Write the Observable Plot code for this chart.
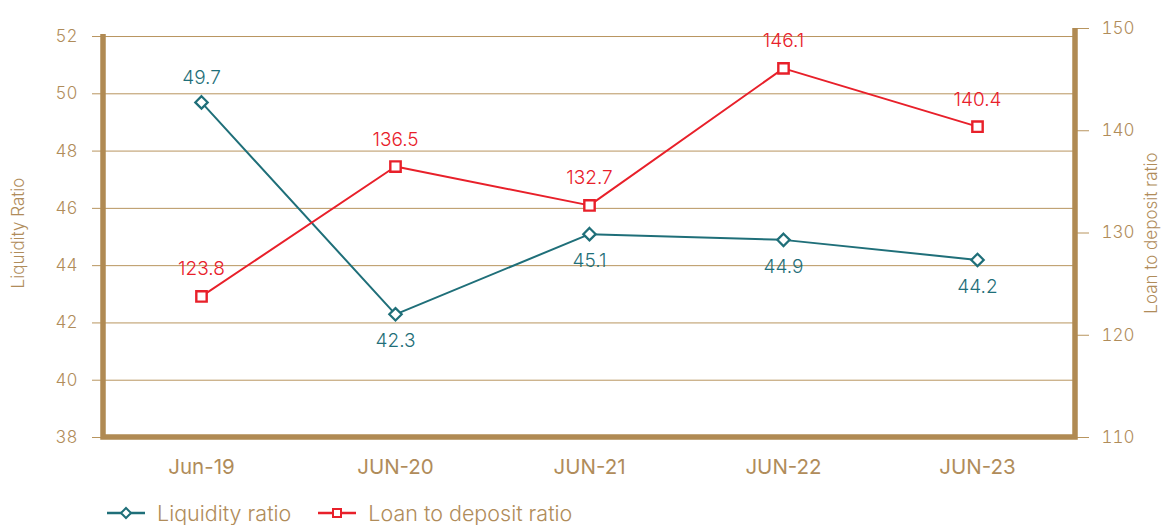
<!DOCTYPE html>
<html>
<head>
<meta charset="utf-8">
<script src="https://cdn.jsdelivr.net/npm/d3@7"></script>
<script src="https://cdn.jsdelivr.net/npm/@observablehq/plot@0.6"></script>
<style>
  html, body { margin: 0; padding: 0; background: #fff; }
  body { width: 1162px; height: 525px; overflow: hidden; font-family: Inter, Lato, sans-serif; }
  #legend { display: flex; align-items: center; height: 30px; margin-top: 3px; margin-left: 107px; font-size: 21.5px; color: #b08c5a; }
  #legend .item { display: flex; align-items: center; margin-right: 27px; }
  #legend svg { margin-right: 12px; }
</style>
</head>
<body>
<div id="chart"></div>
<div id="legend"></div>
<script>
// ---- data ----
const periods = ["Jun-19", "JUN-20", "JUN-21", "JUN-22", "JUN-23"];
const liquidityRatio = [49.7, 42.3, 45.1, 44.9, 44.2];
const loanToDeposit = [123.8, 136.5, 132.7, 146.1, 140.4];
const leftTicks = [38, 40, 42, 44, 46, 48, 50, 52];
const rightTicks = [110, 120, 130, 140, 150];
const seriesNames = ["Liquidity ratio", "Loan to deposit ratio"];
const axisTitles = ["Liquidity Ratio", "Loan to deposit ratio"];

// ---- styles ----
const font = "Inter, Lato, sans-serif";
const gold = "#b08c5a";
const barColor = "#b08a53";
const gridColor = "#b8955f";
const teal = "#1f6f79";
const red = "#e8202a";

// right axis (110..150) mapped onto left units
const rMin = 110, rMax = 150, lMin = 38, lTop = 52.28;
const toLeft = v => lMin + (v - rMin) * (lTop - lMin) / (rMax - rMin);
const fromLeft = v => rMin + (v - lMin) * (rMax - rMin) / (lTop - lMin);

const liq = periods.map((p, i) => ({period: p, value: liquidityRatio[i]}));
const ltd = periods.map((p, i) => ({period: p, value: loanToDeposit[i], y: toLeft(loanToDeposit[i])}));

const chart = Plot.plot({
  width: 1162,
  height: 495,
  marginLeft: 103,
  marginRight: 87,
  marginTop: 28,
  marginBottom: 58,
  style: {fontFamily: font, background: "#fff", overflow: "visible"},
  x: {type: "point", domain: periods, padding: 0.5, axis: null},
  y: {domain: [lMin, lTop], axis: null},
  marks: [
    Plot.gridY(leftTicks.slice(1), {stroke: gridColor, strokeOpacity: 1, strokeWidth: 1}),
    Plot.axisY(leftTicks, {anchor: "left", tickSize: 11, tickPadding: 15, stroke: gridColor, fill: gold, fontSize: 17, fontWeight: 300, label: null}),
    Plot.axisY(rightTicks.map(toLeft), {anchor: "right", tickSize: 13, tickPadding: 13, stroke: gridColor, fill: gold, fontSize: 17, fontWeight: 300, label: null, tickFormat: d => String(Math.round(fromLeft(d)))}),
    Plot.axisX(periods, {anchor: "bottom", tickSize: 0, tickPadding: 22, fill: gold, fontSize: 20.5, fontWeight: 400, label: null}),
    Plot.text([axisTitles[0]], {frameAnchor: "left", rotate: -90, dx: -85, textAnchor: "middle", fill: gold, fontSize: 17, fontWeight: 300}),
    Plot.text([axisTitles[1]], {frameAnchor: "right", rotate: -90, dx: 76, textAnchor: "middle", fill: gold, fontSize: 17, fontWeight: 300}),
    Plot.line(liq, {x: "period", y: "value", stroke: teal, strokeWidth: 2}),
    Plot.line(ltd, {x: "period", y: "y", stroke: red, strokeWidth: 2}),
    Plot.dot(liq, {x: "period", y: "value", symbol: "diamond2", r: 5.6, stroke: teal, strokeWidth: 2.2, fill: "#fff"}),
    Plot.dot(ltd, {x: "period", y: "y", symbol: "square2", r: 6.6, stroke: red, strokeWidth: 2.4, fill: "#fff"}),
    Plot.text(liq.slice(0, 1), {x: "period", y: "value", text: d => d.value.toFixed(1), dy: -24, fill: teal, fontSize: 19, fontWeight: 300}),
    Plot.text(liq.slice(1), {x: "period", y: "value", text: d => d.value.toFixed(1), dy: 27, fill: teal, fontSize: 19, fontWeight: 300}),
    Plot.text(ltd, {x: "period", y: "y", text: d => d.value.toFixed(1), dy: -27, fill: red, fontSize: 19, fontWeight: 300})
  ]
});

document.getElementById("chart").appendChild(chart);

// thick frame bars (left, bottom, right) derived from the plot's scales
const ys = chart.scale("y");
const xs = chart.scale("x");
const xLeft = xs.range[0];
const xRight = xs.range[1];
const svg = d3.select(chart);
const g = svg.append("g").attr("stroke", barColor).attr("stroke-width", 5.5).attr("fill", "none");
const yBottom = ys.apply(lMin);
g.append("path").attr("d", `M${xLeft},${ys.apply(52) - 2}V${yBottom}H${xRight}V${ys.apply(toLeft(150))}`);
// bring series above bars
svg.selectAll("g[aria-label='line'], g[aria-label='dot'], g[aria-label='text']").raise();

// legend
const legend = d3.select("#legend").style("font-family", font).style("font-weight", 300);
const items = [
  {name: seriesNames[0], color: teal, shape: "diamond"},
  {name: seriesNames[1], color: red, shape: "square"}
];
for (const it of items) {
  const item = legend.append("div").attr("class", "item");
  const s = item.append("svg").attr("width", 38).attr("height", 16);
  s.append("line").attr("x1", 0).attr("x2", 38).attr("y1", 8).attr("y2", 8).attr("stroke", it.color).attr("stroke-width", 2.5);
  if (it.shape === "diamond") {
    s.append("path").attr("d", "M19,3L24,8L19,13L14,8Z").attr("fill", "#fff").attr("stroke", it.color).attr("stroke-width", 2);
  } else {
    s.append("rect").attr("x", 15).attr("y", 4).attr("width", 8).attr("height", 8).attr("fill", "#fff").attr("stroke", it.color).attr("stroke-width", 2);
  }
  item.append("span").text(it.name);
}
</script>
</body>
</html>
